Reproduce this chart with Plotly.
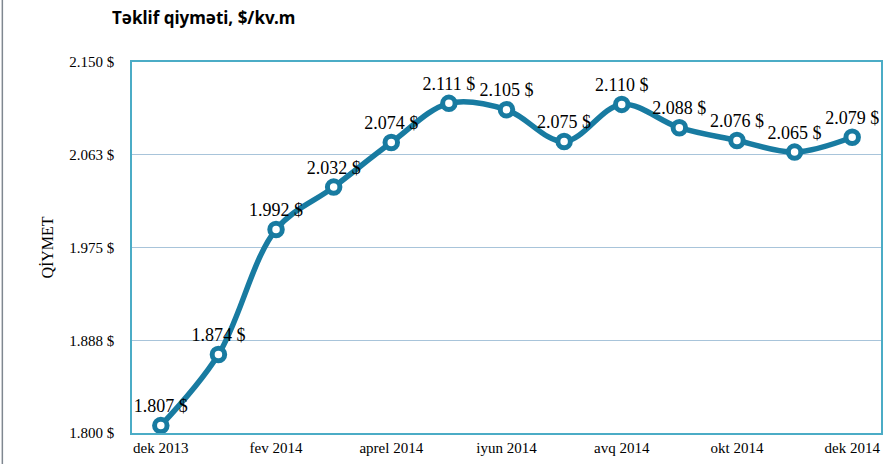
import plotly.graph_objects as go

months = ["dek 2013", "yan 2014", "fev 2014", "mart 2014", "aprel 2014", "may 2014", "iyun 2014",
          "iyul 2014", "avq 2014", "sen 2014", "okt 2014", "noy 2014", "dek 2014"]
prices = [1.807, 1.874, 1.992, 2.032, 2.074, 2.111, 2.105, 2.075, 2.110, 2.088, 2.076, 2.065, 2.079]
shown_months = ["dek 2013", "fev 2014", "aprel 2014", "iyun 2014", "avq 2014", "okt 2014", "dek 2014"]
y_ticks = [1.8, 1.8875, 1.975, 2.0625, 2.15]
y_tick_labels = ["1.800 $", "1.888 $", "1.975 $", "2.063 $", "2.150 $"]

W, H = 889, 464
L, R, T, B = 132, 6, 62, 31
color = "#187BA1"
serif = "Liberation Serif, Times New Roman, serif"

fig = go.Figure()
fig.add_trace(go.Scatter(
    x=months, y=prices,
    mode="lines+markers+text",
    line=dict(color=color, width=5.5, shape="spline", smoothing=1.0),
    marker=dict(size=12.5, color="white", line=dict(color=color, width=5)),
    text=[f"{v:.3f} $" for v in prices],
    textposition="top center",
    textfont=dict(family=serif, size=18, color="black"),
    cliponaxis=False,
    hoverinfo="skip",
))

fig.update_layout(
    width=W, height=H,
    margin=dict(l=L, r=R, t=T, b=B),
    paper_bgcolor="white", plot_bgcolor="white",
    showlegend=False,
    xaxis=dict(
        type="category", tickmode="array", tickvals=shown_months, ticktext=shown_months,
        tickfont=dict(family=serif, size=15, color="black"),
        showgrid=False, showline=True, linecolor="#4BACC6", linewidth=1.5, mirror=True,
        ticks="", ticklen=0, range=[-0.5, 12.5],
    ),
    yaxis=dict(
        range=[1.8, 2.15], tickmode="array", tickvals=y_ticks, ticktext=y_tick_labels,
        tickfont=dict(family=serif, size=15, color="black"),
        showgrid=True, gridcolor="#A8C4DA", gridwidth=1,
        showline=True, linecolor="#4BACC6", linewidth=1.5, mirror=True,
        zeroline=False, ticks="", ticklabelstandoff=13,
        title=dict(text="QİYMET", font=dict(family=serif, size=16, color="black"), standoff=12),
    ),
    annotations=[dict(
        text="<b>Təklif qiymәti, $/kv.m</b>", xref="paper", yref="paper",
        x=(110 - L) / (W - L - R), y=1 + (T - 18) / (H - T - B),
        xanchor="left", yanchor="middle", showarrow=False,
        font=dict(family="Noto Sans, Open Sans, sans-serif", size=17, color="black"),
    )],
    shapes=[dict(type="line", xref="paper", yref="paper",
                 x0=(2 - L) / (W - L - R), x1=(2 - L) / (W - L - R),
                 y0=-B / (H - T - B), y1=1 + T / (H - T - B),
                 line=dict(color="#7F8790", width=1.5))],
)

fig.write_html("out.html", config={"displayModeBar": False},
               post_script="document.body.style.margin='0';document.body.style.overflow='hidden';")
